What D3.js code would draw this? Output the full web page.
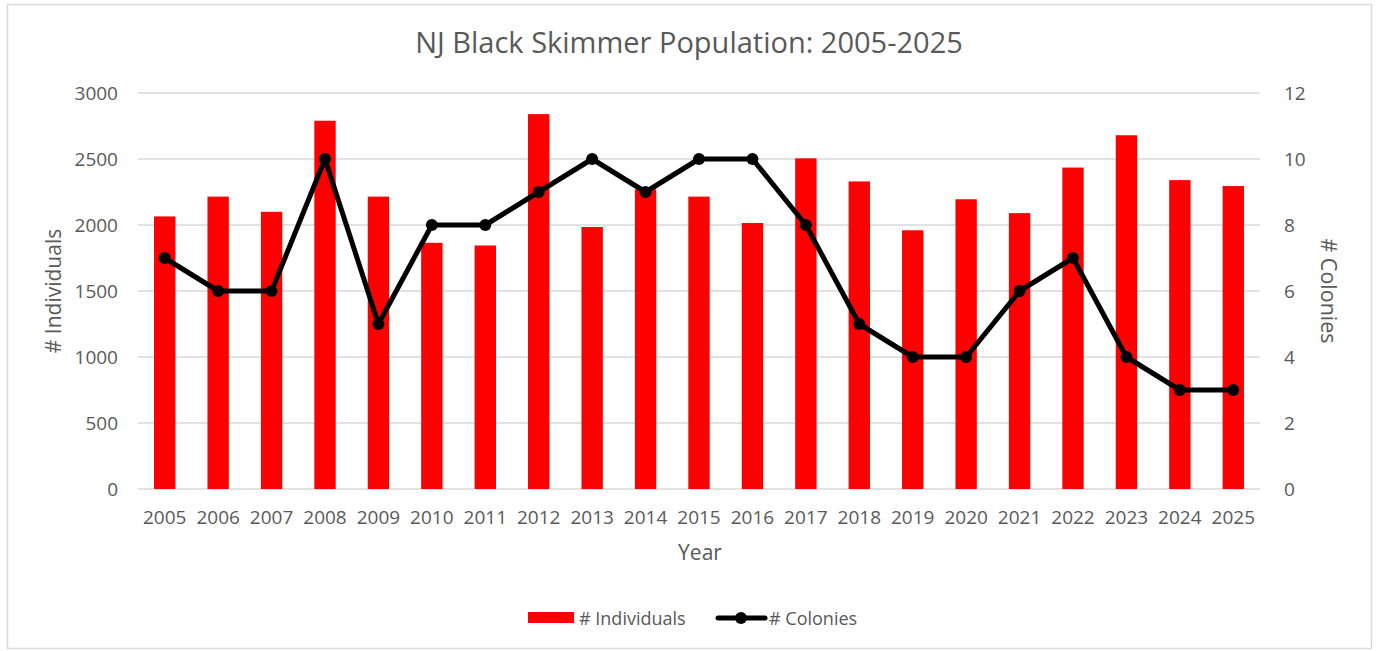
<!doctype html>
<html>
	<head>
		<meta charset="UTF-8">
		<script src="https://d3js.org/d3.v7.min.js"></script>
		<style>
			body { margin: 0; background: #fff; }
			text { font-family: "Open Sans", sans-serif; fill: #595959; }
		</style>
	</head>
	<body>
		<script>
			// data
			const years = ["2005", "2006", "2007", "2008", "2009", "2010", "2011", "2012", "2013", "2014", "2015",
			               "2016", "2017", "2018", "2019", "2020", "2021", "2022", "2023", "2024", "2025"];
			const individuals = [2065, 2215, 2100, 2790, 2215, 1865, 1845, 2840, 1985, 2270, 2215,
			                     2015, 2505, 2330, 1960, 2195, 2090, 2435, 2680, 2340, 2295];
			const colonies = [7, 6, 6, 10, 5, 8, 8, 9, 10, 9, 10, 10, 8, 5, 4, 4, 6, 7, 4, 3, 3];
			const leftTicks = [0, 500, 1000, 1500, 2000, 2500, 3000];
			const rightTicks = [0, 2, 4, 6, 8, 10, 12];

			const W = 1379, H = 651;
			const margin = { top: 93, right: 119, bottom: 162, left: 138 };
			const width = W - margin.left - margin.right;
			const height = H - margin.top - margin.bottom;

			const svg = d3.select("body").append("svg")
				.attr("width", W)
				.attr("height", H);

			// chart border
			svg.append("rect")
				.attr("x", 7.5).attr("y", 4.5)
				.attr("width", 1364).attr("height", 644)
				.attr("fill", "#fff")
				.attr("stroke", "#d9d9d9")
				.attr("stroke-width", 1.5);

			const g = svg.append("g")
				.attr("transform", "translate(" + margin.left + "," + margin.top + ")");

			const x = d3.scaleBand().domain(years).range([0, width]).paddingInner(0.6).paddingOuter(0.3);
			const xc = d3.scalePoint().domain(years).range([x.step() / 2, width - x.step() / 2]);
			const yL = d3.scaleLinear().domain([0, 3000]).range([height, 0]);
			const yR = d3.scaleLinear().domain([0, 12]).range([height, 0]);

			// gridlines
			g.append("g")
				.selectAll("line")
				.data(leftTicks)
				.join("line")
				.attr("x1", 0).attr("x2", width)
				.attr("y1", d => yL(d)).attr("y2", d => yL(d))
				.attr("stroke", "#d9d9d9")
				.attr("stroke-width", 1.5);

			// left axis
			const axL = g.append("g")
				.call(d3.axisLeft(yL).tickValues(leftTicks).tickFormat(d3.format("d")).tickSize(0).tickPadding(20));
			axL.select(".domain").remove();
			axL.selectAll("text").style("font-size", "19px").attr("fill", "#595959");

			// right axis
			const axR = g.append("g")
				.attr("transform", "translate(" + width + ",0)")
				.call(d3.axisRight(yR).tickValues(rightTicks).tickSize(0).tickPadding(24));
			axR.select(".domain").remove();
			axR.selectAll("text").style("font-size", "19px").attr("fill", "#595959");

			// bottom axis
			const axB = g.append("g")
				.attr("transform", "translate(0," + height + ")")
				.call(d3.axisBottom(x).tickSize(0).tickPadding(22));
			axB.select(".domain").remove();
			axB.selectAll("text").style("font-size", "19px").attr("fill", "#595959");

			// bars
			g.append("g")
				.selectAll("rect")
				.data(years.map((y, i) => ({ year: y, value: individuals[i] })))
				.join("rect")
				.attr("x", d => x(d.year))
				.attr("width", x.bandwidth())
				.attr("y", d => yL(d.value))
				.attr("height", d => height - yL(d.value))
				.attr("fill", "#ff0000");

			// line
			const pts = years.map((y, i) => ({ year: y, value: colonies[i] }));
			g.append("path")
				.datum(pts)
				.attr("d", d3.line().x(d => xc(d.year)).y(d => yR(d.value)))
				.attr("fill", "none")
				.attr("stroke", "#000")
				.attr("stroke-width", 5)
				.attr("stroke-linejoin", "round")
				.attr("stroke-linecap", "round");

			g.append("g")
				.selectAll("circle")
				.data(pts)
				.join("circle")
				.attr("cx", d => xc(d.year))
				.attr("cy", d => yR(d.value))
				.attr("r", 6)
				.attr("fill", "#000");

			// title
			svg.append("text")
				.attr("x", 689).attr("y", 53)
				.attr("text-anchor", "middle")
				.style("font-size", "29px")
				.text("NJ Black Skimmer Population: 2005-2025");

			// axis titles
			svg.append("text")
				.attr("transform", "translate(54," + (margin.top + height / 2) + ") rotate(-90)")
				.attr("text-anchor", "middle")
				.attr("dy", "0.35em")
				.style("font-size", "21px")
				.text("# Individuals");

			svg.append("text")
				.attr("transform", "translate(1329," + (margin.top + height / 2) + ") rotate(90)")
				.attr("text-anchor", "middle")
				.attr("dy", "0.35em")
				.style("font-size", "21.5px")
				.text("# Colonies");

			svg.append("text")
				.attr("x", 700).attr("y", 553)
				.attr("dy", "0.35em")
				.attr("text-anchor", "middle")
				.style("font-size", "21px")
				.text("Year");

			// legend
			const leg = svg.append("g");
			leg.append("rect")
				.attr("x", 528).attr("y", 612)
				.attr("width", 46).attr("height", 11)
				.attr("fill", "#ff0000");
			leg.append("text")
				.attr("x", 579).attr("y", 625)
				.style("font-size", "18px")
				.text("# Individuals");
			leg.append("line")
				.attr("x1", 718).attr("x2", 765)
				.attr("y1", 618).attr("y2", 618)
				.attr("stroke", "#000")
				.attr("stroke-width", 5)
				.attr("stroke-linecap", "round");
			leg.append("circle")
				.attr("cx", 741).attr("cy", 618).attr("r", 6)
				.attr("fill", "#000");
			leg.append("text")
				.attr("x", 769).attr("y", 625)
				.style("font-size", "18px")
				.text("# Colonies");
		</script>
	</body>
</html>
